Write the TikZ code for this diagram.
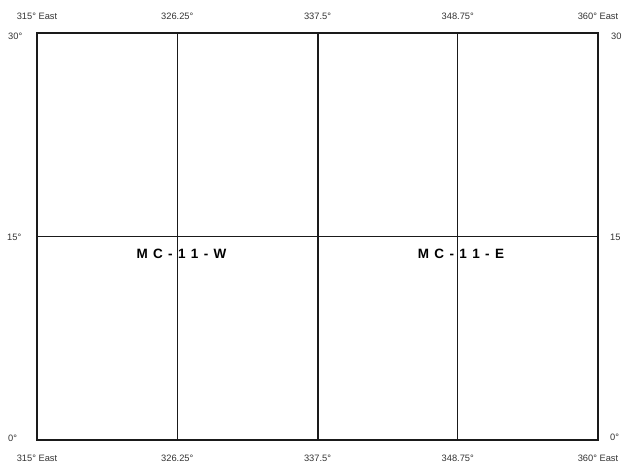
\documentclass[tikz,border=0pt]{standalone}
\usepackage{fontspec}
\setmainfont{Liberation Sans}
\newfontfamily\sheetfont[LetterSpace=12]{Liberation Sans}
\usepackage{xcolor}
\usepackage{tikz}
\usetikzlibrary{positioning}
\definecolor{gridink}{HTML}{1A1A1A}
\definecolor{lblink}{HTML}{333333}

\begin{document}
\begin{tikzpicture}[
          x=1pt, y=1pt,
          lbl/.style={font=\fontsize{9.3}{10}\selectfont, text=lblink, inner sep=0pt},
          sheet/.style={font=\sheetfont\bfseries\fontsize{13.5}{15}\selectfont, inner sep=0pt},
          frame/.style={draw=gridink, line width=2pt},
          thin/.style={draw=gridink, line width=0.8pt}
      ]
        \useasboundingbox (-37,-25) rectangle (585,440);

        % grid
        \draw[thin] (0,203.5) -- (561,203.5);
        \draw[thin] (140.25,0) -- (140.25,407);
        \draw[thin] (420.75,0) -- (420.75,407);
        \draw[frame] (280.5,0) -- (280.5,407);
        \draw[frame] (0,0) rectangle (561,407);

        % longitudes, top
        \node[lbl] (t1) at (0,424) {315° East};
        \node[lbl] (t2) at (140.25,424) {326.25°};
        \node[lbl] (t3) at (280.5,424) {337.5°};
        \node[lbl] (t4) at (420.75,424) {348.75°};
        \node[lbl] (t5) at (561,424) {360° East};

        % longitudes, bottom
        \node[lbl] (b1) at (0,-18) {315° East};
        \node[lbl] (b2) at (140.25,-18) {326.25°};
        \node[lbl] (b3) at (280.5,-18) {337.5°};
        \node[lbl] (b4) at (420.75,-18) {348.75°};
        \node[lbl] (b5) at (561,-18) {360° East};

        % latitudes
        \node[lbl, anchor=west] (l30) at (-29,404) {30°};
        \node[lbl, anchor=west] (l15) at (-30,203) {15°};
        \node[lbl, anchor=west] (l0)  at (-29,2) {0°};
        \node[lbl, anchor=west] (r30) at (574,404) {30};
        \node[lbl, anchor=west] (r15) at (573,203) {15};
        \node[lbl, anchor=west] (r0)  at (573,3) {0°};

        % sheet names
        \node[sheet] (west) at (144.5,186) {M C - 1 1 - W};
        \node[sheet] (east) at (424,186) {M C - 1 1 - E};
      \end{tikzpicture}
\end{document}
